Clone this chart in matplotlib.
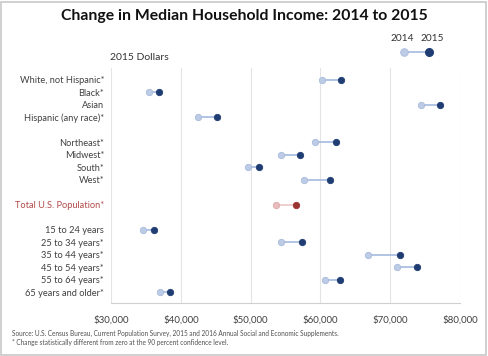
import matplotlib
matplotlib.use("Agg")
import matplotlib.pyplot as plt
from matplotlib.lines import Line2D
from matplotlib.patches import Rectangle

categories = [
    "White, not Hispanic*", "Black*", "Asian", "Hispanic (any race)*",
    "",
    "Northeast*", "Midwest*", "South*", "West*",
    "",
    "Total U.S. Population*",
    "",
    "15 to 24 years", "25 to 34 years*", "35 to 44 years*", "45 to 54 years*",
    "55 to 64 years*", "65 years and older*",
]
income_2014 = [60230, 35440, 74400, 42510, None, 59270, 54310, 49670, 57690,
               None, 53680, None, 34630, 54310, 66780, 70930, 60660, 36970]
income_2015 = [62950, 36920, 77180, 45140, None, 62230, 57080, 51160, 61420,
               None, 56500, None, 36110, 57320, 71450, 73880, 62810, 38500]
highlight = "Total U.S. Population*"
x_ticks = [30000, 40000, 50000, 60000, 70000, 80000]

plt.rcParams["font.family"] = ["Lato", "DejaVu Sans"]

fig = plt.figure(figsize=(4.88, 3.56), dpi=100)
ax = fig.add_axes([0.2275, 0.149, 0.715, 0.66])

blue_light, blue_dark, blue_line = "#bccbe6", "#1f3d73", "#9db4dc"
red_light, red_dark, red_line = "#e8bcbb", "#9b3330", "#e8c4c3"

for i, (cat, a, b) in enumerate(zip(categories, income_2014, income_2015)):
    if a is None:
        continue
    if cat == highlight:
        cl, cd, cn, ce = red_light, red_dark, red_line, "#dcaaa9"
    else:
        cl, cd, cn, ce = blue_light, blue_dark, blue_line, "#a9bbdb"
    ax.plot([a, b], [i, i], color=cn, lw=1.1, zorder=2)
    ax.plot(a, i, "o", ms=4.6, mfc=cl, mec=ce, mew=0.6, zorder=3)
    ax.plot(b, i, "o", ms=4.6, mfc=cd, mec=cd, mew=0.6, zorder=3)

ax.set_xlim(30000, 80000)
ax.set_ylim(17.84, -0.96)
ax.set_xticks(x_ticks)
ax.set_xticklabels([f"${v:,.0f}" for v in x_ticks], fontsize=7, color="#404040")
ax.set_yticks(range(len(categories)))
ax.set_yticklabels(categories, fontsize=6.7, color="#404040")
for lab in ax.get_yticklabels():
    if lab.get_text() == highlight:
        lab.set_color("#b04a48")
ax.tick_params(length=0, pad=5)
ax.tick_params(axis="x", pad=9)
ax.grid(axis="x", color="#e4e4e4", lw=0.8)
ax.set_axisbelow(True)
for s in ["top", "right", "left"]:
    ax.spines[s].set_visible(False)
ax.spines["bottom"].set_color("#d0d0d0")

fig.text(0.5, 0.955, "Change in Median Household Income: 2014 to 2015",
         ha="center", va="center", fontsize=11.3, fontweight="bold", color="#111111")
fig.text(0.226, 0.838, "2015 Dollars", ha="left", va="center", fontsize=7.5, color="#333333")

# legend
fig.text(0.824, 0.893, "2014", ha="center", va="center", fontsize=7.3, color="#333333")
fig.text(0.885, 0.893, "2015", ha="center", va="center", fontsize=7.3, color="#333333")
fig.add_artist(Line2D([0.828, 0.879], [0.854, 0.854], color=blue_line, lw=1.1,
                      transform=fig.transFigure))
fig.add_artist(Line2D([0.828], [0.854], marker="o", ms=5.5, mfc=blue_light, mec="#a9bbdb",
                      mew=0.6, transform=fig.transFigure))
fig.add_artist(Line2D([0.879], [0.854], marker="o", ms=5.5, mfc=blue_dark, mec=blue_dark,
                      transform=fig.transFigure))

fig.text(0.025, 0.062,
         "Source: U.S. Census Bureau, Current Population Survey, 2015 and 2016 Annual Social and Economic Supplements.",
         ha="left", va="center", fontsize=4.7, color="#505050")
fig.text(0.025, 0.037,
         "* Change statistically different from zero at the 90 percent confidence level.",
         ha="left", va="center", fontsize=4.7, color="#505050")

fig.add_artist(Rectangle((0.003, 0.004), 0.992, 0.99, transform=fig.transFigure,
                         fill=False, ec="#c8c8c8", lw=1.2))

fig.savefig("out.png", dpi=100)
